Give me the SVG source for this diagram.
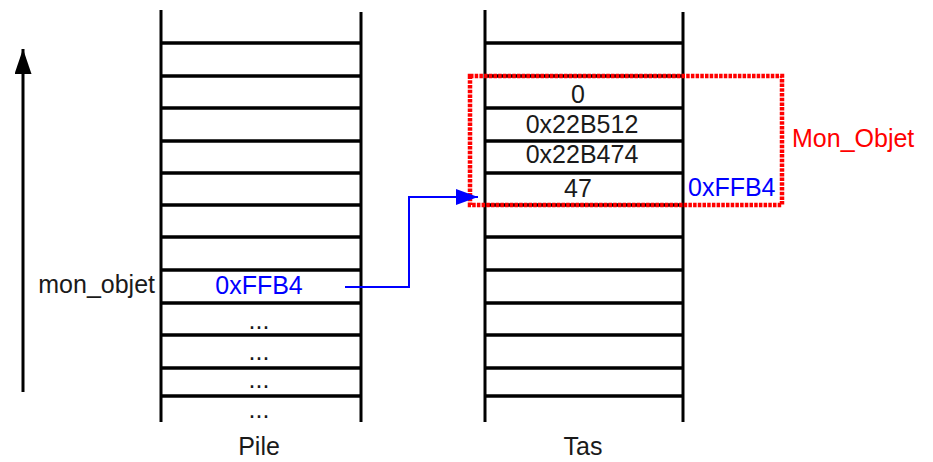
<svg xmlns="http://www.w3.org/2000/svg" width="933" height="462" viewBox="0 0 933 462">
  <style>
    .t { font-family: "Liberation Sans", Arial, sans-serif; font-size: 25px; fill: #1a1a1a; }
    .c { text-anchor: middle; }
    .blue { fill: #0000ff; }
    .red { fill: #ff0000; }
    .v { stroke: #000; stroke-width: 3; fill: none; }
    .h { stroke: #000; stroke-width: 3.5; fill: none; }
    .dots { stroke: #ff0000; stroke-width: 4.5; fill: none; stroke-dasharray: 3.5 1.2; }
    .conn { stroke: #0000ff; stroke-width: 2; fill: none; }
  </style>
  <defs>
    <marker id="ahBlue" markerUnits="userSpaceOnUse" markerWidth="24" markerHeight="18" refX="22" refY="8" orient="auto">
      <path d="M0,0 L22,8 L0,16 Z" fill="#0000ff"/>
    </marker>
    <marker id="ahBlack" markerUnits="userSpaceOnUse" markerWidth="26" markerHeight="18" refX="25" refY="8.5" orient="auto">
      <path d="M0,0 L25,8.5 L0,17 Z" fill="#000"/>
    </marker>
  </defs>

  <g id="axis">
    <line x1="23" y1="392" x2="23" y2="49" stroke="#000" stroke-width="3" marker-end="url(#ahBlack)"/>
  </g>

  <g id="pile">
    <line class="v" x1="161" y1="10" x2="161" y2="422"/>
    <line class="v" x1="361" y1="12" x2="361" y2="422"/>
    <g class="h">
      <line x1="161" y1="43" x2="361" y2="43"/>
      <line x1="161" y1="76" x2="361" y2="76"/>
      <line x1="161" y1="108" x2="361" y2="108"/>
      <line x1="161" y1="141" x2="361" y2="141"/>
      <line x1="161" y1="173" x2="361" y2="173"/>
      <line x1="161" y1="205" x2="361" y2="205"/>
      <line x1="161" y1="237" x2="361" y2="237"/>
      <line x1="161" y1="270" x2="361" y2="270"/>
      <line x1="161" y1="303" x2="361" y2="303"/>
      <line x1="161" y1="335" x2="361" y2="335"/>
      <line x1="161" y1="368" x2="361" y2="368"/>
      <line x1="161" y1="396" x2="361" y2="396"/>
    </g>
    <text class="t c blue" x="259" y="294">0xFFB4</text>
    <text class="t c" x="259" y="329">...</text>
    <text class="t c" x="259" y="360">...</text>
    <text class="t c" x="259" y="388">...</text>
    <text class="t c" x="259" y="418">...</text>
    <text class="t c" x="259" y="455">Pile</text>
  </g>

  <g id="mon_objet_label">
    <text class="t" x="155" y="293" text-anchor="end">mon_objet</text>
  </g>

  <g id="tas">
    <line class="v" x1="485" y1="10" x2="485" y2="422"/>
    <line class="v" x1="683" y1="12" x2="683" y2="422"/>
    <g class="h">
      <line x1="485" y1="43" x2="683" y2="43"/>
      <line x1="485" y1="76" x2="683" y2="76"/>
      <line x1="485" y1="108" x2="683" y2="108"/>
      <line x1="485" y1="141" x2="683" y2="141"/>
      <line x1="485" y1="173" x2="683" y2="173"/>
      <line x1="485" y1="205" x2="683" y2="205"/>
      <line x1="485" y1="237" x2="683" y2="237"/>
      <line x1="485" y1="270" x2="683" y2="270"/>
      <line x1="485" y1="303" x2="683" y2="303"/>
      <line x1="485" y1="335" x2="683" y2="335"/>
      <line x1="485" y1="368" x2="683" y2="368"/>
      <line x1="485" y1="396" x2="683" y2="396"/>
    </g>
    <text class="t c" x="578" y="103">0</text>
    <text class="t c" x="582" y="133">0x22B512</text>
    <text class="t c" x="582" y="163">0x22B474</text>
    <text class="t c" x="578" y="197">47</text>
    <text class="t c" x="583" y="455">Tas</text>
  </g>

  <g id="Mon_Objet">
    <rect class="dots" x="470" y="76" width="312" height="129"/>
    <text class="t blue" x="688" y="196">0xFFB4</text>
    <text class="t red" x="792" y="147">Mon_Objet</text>
  </g>

  <g id="connectors">
    <polyline class="conn" points="345,287 409,287 409,197 478,197" marker-end="url(#ahBlue)"/>
  </g>
</svg>
